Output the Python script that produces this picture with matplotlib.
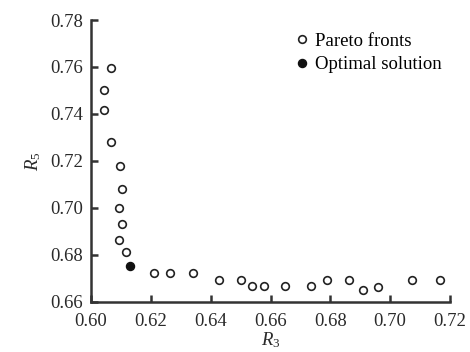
import matplotlib
matplotlib.use("Agg")
import matplotlib.pyplot as plt

plt.rcParams['font.family'] = ['Liberation Serif', 'DejaVu Serif']
plt.rcParams['mathtext.fontset'] = 'custom'
plt.rcParams['mathtext.rm'] = 'Liberation Serif'
plt.rcParams['mathtext.it'] = 'Liberation Serif:italic'

# Pareto front solutions (R3, R5)
pareto_r3 = [0.6067, 0.6045, 0.6045, 0.6067, 0.6098, 0.6105, 0.6093, 0.6105,
             0.6093, 0.6116, 0.6212, 0.6264, 0.6340, 0.6427, 0.6501, 0.6539,
             0.6577, 0.6650, 0.6734, 0.6788, 0.6863, 0.6908, 0.6958, 0.7074,
             0.7167]
pareto_r5 = [0.7597, 0.7500, 0.7415, 0.7280, 0.7179, 0.7080, 0.6998, 0.6929,
             0.6861, 0.6810, 0.6722, 0.6722, 0.6722, 0.6694, 0.6694, 0.6667,
             0.6667, 0.6667, 0.6667, 0.6694, 0.6694, 0.6649, 0.6662, 0.6694,
             0.6694]
# Selected optimal solution
optimal_r3 = [0.6131]
optimal_r5 = [0.6752]

x_ticks = [0.60, 0.62, 0.64, 0.66, 0.68, 0.70, 0.72]
y_ticks = [0.66, 0.68, 0.70, 0.72, 0.74, 0.76, 0.78]

text_color = '#2a2a2a'
fs = 13.5

fig = plt.figure(figsize=(4.7, 3.52), dpi=100)
ax = fig.add_axes([91/470, 1 - 301.7/352, (450 - 91)/470, (301.7 - 20)/352])

ax.plot(pareto_r3, pareto_r5, 'o', linestyle='none', markersize=5.5,
        markerfacecolor='white', markeredgecolor='#222222', markeredgewidth=1.2,
        label='Pareto fronts')
ax.plot(optimal_r3, optimal_r5, 'o', linestyle='none', markersize=5.8,
        color='#111111', label='Optimal solution')

ax.set_xlim(0.60, 0.72)
ax.set_ylim(0.66, 0.78)
ax.set_xticks(x_ticks)
ax.set_yticks(y_ticks)
ax.set_xticklabels([f'{v:.2f}' for v in x_ticks])
ax.set_yticklabels([f'{v:.2f}' for v in y_ticks])

for side in ('top', 'right'):
    ax.spines[side].set_visible(False)
for side in ('left', 'bottom'):
    ax.spines[side].set_linewidth(1.8)
    ax.spines[side].set_color('#333333')

ax.tick_params(direction='in', length=5, width=1.8, color='#333333',
               labelsize=fs, labelcolor=text_color)
ax.tick_params(axis='x', pad=8)
ax.tick_params(axis='y', pad=6)

ax.set_xlabel('$R_3$', fontsize=fs, labelpad=0, color=text_color)
ax.set_ylabel('$R_5$', fontsize=fs, labelpad=5, color=text_color)

ax.legend(loc='upper left', frameon=False, fontsize=fs, handletextpad=0.15,
          borderaxespad=0.0, labelspacing=0.35, handlelength=1.0,
          borderpad=0.0, bbox_to_anchor=((293 - 91) / (450 - 91), 0.956))

fig.savefig('out.png', dpi=100)
